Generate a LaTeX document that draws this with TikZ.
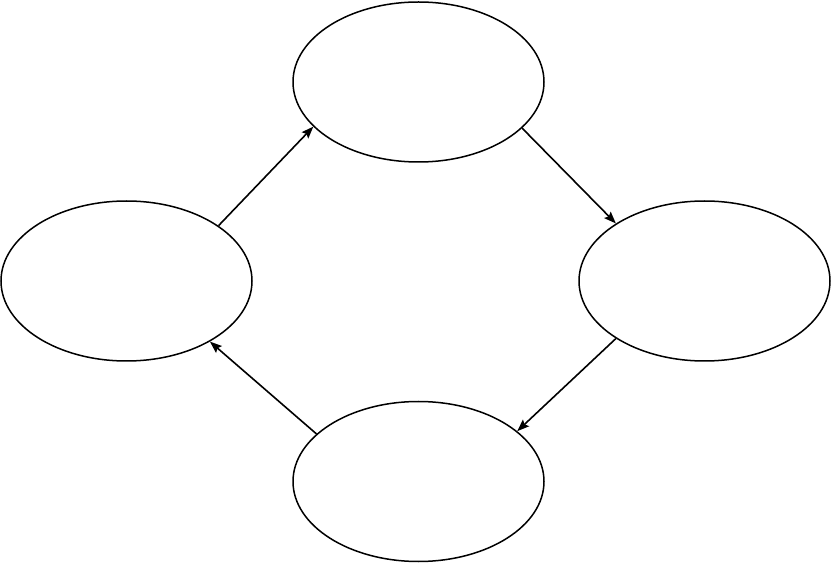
\documentclass[tikz,border=0pt]{standalone}
\usetikzlibrary{shapes.geometric,arrows.meta}
\begin{document}
\begin{tikzpicture}[x=1pt,y=-1pt,
  blob/.style={draw=black,line width=1.5pt,ellipse,minimum width=251pt,minimum height=160pt,inner sep=0pt},
  link/.style={draw=black,line width=1.6pt,-{Stealth[length=12pt,width=9pt,inset=2pt]}}]
\useasboundingbox (0,0) rectangle (831,564);
\node[blob] (top) at (418.5,82) {};
\node[blob] (left) at (126.5,281) {};
\node[blob] (right) at (704.5,281) {};
\node[blob] (bottom) at (418.5,481.5) {};
\draw[link] (left.31.6) -- (top.-157);
\draw[link] (top.-24) -- (right.147);
\draw[link] (right.213.5) -- (bottom.27);
\draw[link] (bottom.155) -- (left.-36.7);
\end{tikzpicture}
\end{document}
